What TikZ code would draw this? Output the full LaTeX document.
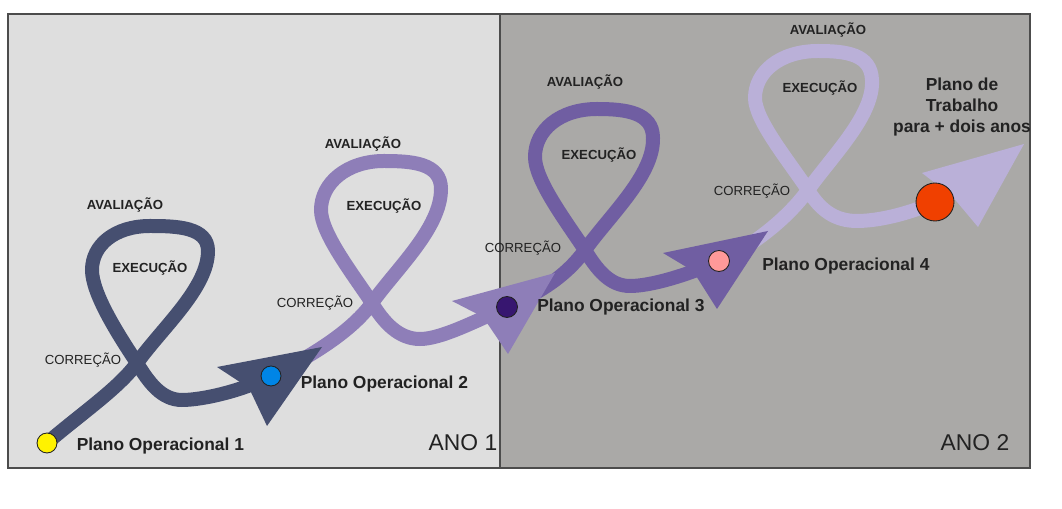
\documentclass[tikz,border=0pt]{standalone}
\usepackage{fontspec}
\setmainfont{Liberation Sans}
\usetikzlibrary{positioning}

\definecolor{ink}{RGB}{34,34,34}
\definecolor{yearone}{RGB}{222,222,222}
\definecolor{yeartwo}{RGB}{170,169,167}
\definecolor{slate}{RGB}{70,79,112}
\definecolor{lilac}{RGB}{142,126,184}
\definecolor{violet}{RGB}{112,94,162}
\definecolor{lavender}{RGB}{186,176,216}
\definecolor{dotblue}{RGB}{0,133,230}
\definecolor{dotdark}{RGB}{55,22,112}
\definecolor{dotpink}{RGB}{255,153,153}
\definecolor{dotred}{RGB}{240,64,0}

\begin{document}
\begin{tikzpicture}[x=0.02cm, y=-0.02cm,
  loopline/.style={line width=0.28cm},
  frame/.style={draw=black!70, line width=0.7pt},
  plandot/.style={circle, draw=ink, line width=0.5pt, inner sep=0pt, minimum size=0.4cm},
  stage/.style={font=\fontsize{7.5}{9}\selectfont\bfseries, text=ink, inner sep=0pt},
  fix/.style={font=\fontsize{7.5}{9}\selectfont, text=ink, inner sep=0pt},
  plano/.style={font=\fontsize{9.9}{12.2}\selectfont\bfseries, text=ink, inner sep=0pt},
  ano/.style={font=\fontsize{13}{15}\selectfont, text=ink, inner sep=0pt}]
  \useasboundingbox (0,0) rectangle (1062,509);
  \fill[white] (0,0) rectangle (1062,509);

  % the two years
  \fill[yearone] (8,14) rectangle (500,468);
  \fill[yeartwo] (500,14) rectangle (1030,468);
  \draw[frame] (8,14) rectangle (1030,468);
  \draw[frame] (500,14) -- (500,468);

  % where the plans sit
  \coordinate (o1) at (47,443);
  \coordinate (o2) at (271,376);
  \coordinate (o3) at (507,307);
  \coordinate (o4) at (719,261);
  \coordinate (o5) at (935,202);

  % loop 4
  \begin{scope}[shift={(808,190)}]
    \draw[loopline, lavender] (o4) .. controls (-62,60) and (-22,31) .. (0,0)
      .. controls (25,-35) and (66,-75) .. (64,-110)
      .. controls (63,-136) and (38,-139) .. (10,-139)
      .. controls (-28,-139) and (-53,-118) .. (-53,-92)
      .. controls (-53,-70) and (-20,-30) .. (0,0)
      .. controls (12,20) and (27,31) .. (49,31)
      .. controls (70,31) and (100,24) .. (o5);
  \end{scope}
  \fill[lavender] (1024,144) -- (922,173) -- (952,196) -- (978,227) -- cycle;

  % loop 3
  \begin{scope}[shift={(585,250)}]
    \draw[loopline, violet] (o3) .. controls (-50,45) and (-20,28) .. (0,0)
      .. controls (25,-35) and (69,-75) .. (68,-112)
      .. controls (68,-138) and (40,-141) .. (12,-141)
      .. controls (-25,-141) and (-50,-120) .. (-50,-93)
      .. controls (-50,-70) and (-20,-30) .. (0,0)
      .. controls (12,20) and (25,36) .. (45,36)
      .. controls (65,36) and (100,26) .. (o4);
  \end{scope}
  \fill[violet] (768,231) -- (663,253) -- (693,271) -- (717,309) -- cycle;

  % loop 2
  \begin{scope}[shift={(372,303)}]
    \draw[loopline, lilac] (o2) .. controls (-70,58) and (-22,31) .. (0,0)
      .. controls (25,-35) and (69,-75) .. (69,-114)
      .. controls (69,-140) and (40,-142) .. (12,-142)
      .. controls (-25,-142) and (-51,-120) .. (-51,-93)
      .. controls (-51,-70) and (-20,-30) .. (0,0)
      .. controls (12,20) and (27,36) .. (48,36)
      .. controls (68,36) and (100,20) .. (o3);
  \end{scope}
  \fill[lilac] (555,273) -- (452,301) -- (483,317) -- (508,354) -- cycle;

  % loop 1
  \begin{scope}[shift={(137,363)}]
    \draw[loopline, slate] (o1) .. controls (-55,50) and (-18,25) .. (0,0)
      .. controls (25,-35) and (71,-75) .. (71,-112)
      .. controls (71,-136) and (40,-137) .. (13,-137)
      .. controls (-22,-137) and (-45,-118) .. (-45,-93)
      .. controls (-45,-70) and (-20,-30) .. (0,0)
      .. controls (12,20) and (25,37) .. (45,37)
      .. controls (65,37) and (105,28) .. (o2);
  \end{scope}
  \fill[slate] (322,347) -- (217,367) -- (249,388) -- (267,426) -- cycle;

  % plans
  \node[plandot, fill=yellow] (p1) at (o1) {};
  \node[plandot, fill=dotblue] (p2) at (o2) {};
  \node[plandot, fill=dotdark, minimum size=0.42cm] (p3) at (o3) {};
  \node[plandot, fill=dotpink, minimum size=0.42cm] (p4) at (o4) {};
  \node[plandot, fill=dotred, minimum size=0.76cm] (p5) at (o5) {};

  \node[plano, right=0.38cm of p1, yshift=-0.06cm] (l1) {Plano Operacional 1};
  \node[plano, right=0.38cm of p2, yshift=-0.16cm] (l2) {Plano Operacional 2};
  \node[plano, right=0.38cm of p3] (l3) {Plano Operacional 3};
  \node[plano, right=0.64cm of p4, yshift=-0.1cm] (l4) {Plano Operacional 4};
  \node[plano, align=center] (l5) at (962,107) {Plano de\\Trabalho\\para + dois anos};

  % stages of each loop
  \node[stage] (av1) at (125,205) {AVALIAÇÃO};
  \node[stage] (ex1) at (150,268) {EXECUÇÃO};
  \node[fix] (co1) at (83,360) {CORREÇÃO};
  \node[stage] (av2) at (363,144) {AVALIAÇÃO};
  \node[stage] (ex2) at (384,206) {EXECUÇÃO};
  \node[fix] (co2) at (315,303) {CORREÇÃO};
  \node[stage] (av3) at (585,82) {AVALIAÇÃO};
  \node[stage] (ex3) at (599,155) {EXECUÇÃO};
  \node[fix] (co3) at (523,248) {CORREÇÃO};
  \node[stage] (av4) at (828,30) {AVALIAÇÃO};
  \node[stage] (ex4) at (820,88) {EXECUÇÃO};
  \node[fix] (co4) at (752,191) {CORREÇÃO};

  \node[ano] (y1) at (463,443) {ANO 1};
  \node[ano] (y2) at (975,443) {ANO 2};
\end{tikzpicture}
\end{document}
